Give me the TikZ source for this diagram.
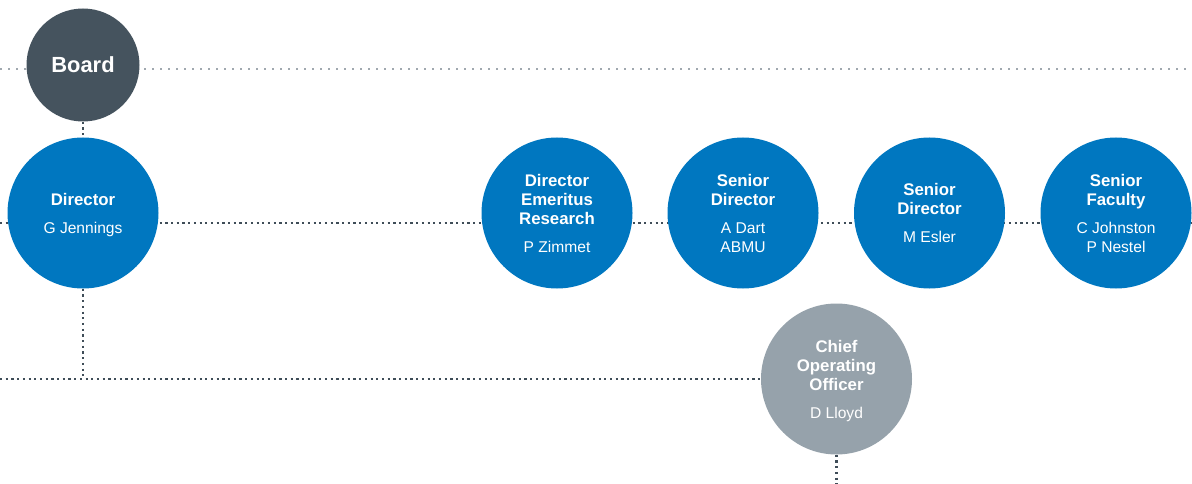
\documentclass[tikz,border=0pt]{standalone}
\usepackage{fontspec}
\setmainfont{Liberation Sans}
\usetikzlibrary{backgrounds}
\definecolor{orgblue}{RGB}{0,119,192}
\definecolor{orgslate}{RGB}{69,83,94}
\definecolor{orggrey}{RGB}{150,162,171}
\definecolor{dotdark}{RGB}{63,77,88}
\definecolor{dotlight}{RGB}{160,168,175}
\newcommand{\hdfont}{\fontsize{16.8}{19}\selectfont\bfseries}
\newcommand{\nmfont}{\fontsize{15.6}{19}\selectfont\mdseries}

\begin{document}
\begin{tikzpicture}[x=1pt,y=-1pt,
	unit/.style={circle,fill=orgblue,text=white,inner sep=0pt,minimum size=151pt,text depth=0pt,align=center,font=\hdfont},
	board/.style={circle,fill=orgslate,text=white,inner sep=0pt,minimum size=113pt,font=\fontsize{21.9}{24}\selectfont\bfseries},
	office/.style={unit,fill=orggrey},
	dotline/.style={dotdark,line width=2.2pt,dash pattern=on 2.2pt off 3.5pt},
	faintline/.style={dotlight,line width=2pt,dash pattern=on 2pt off 6pt}]
				\useasboundingbox (0,0) rectangle (1192,484);
				\node[board] (brd) at (83,65){Board};
				\node[unit] (dir) at (83,213){Director\\[9pt]\nmfont G Jennings};
				\node[unit] (emr) at (557,213){Director\\Emeritus\\Research\\[9pt]\nmfont P Zimmet};
				\node[unit] (sd1) at (743,213){Senior\\Director\\[9pt]\nmfont A Dart\\\nmfont ABMU};
				\node[unit] (sd2) at (929.5,213){Senior\\Director\\[9pt]\nmfont M Esler};
				\node[unit] (fac) at (1116,213){Senior\\Faculty\\[9pt]\nmfont C Johnston\\\nmfont P Nestel};
				\node[office] (coo) at (836.5,379){Chief\\Operating\\Officer\\[9pt]\nmfont D Lloyd};
				\coordinate (tl) at (0,69);
				\coordinate (tr) at (1192,69);
				\coordinate (ml) at (0,223);
				\coordinate (mr) at (1192,223);
				\coordinate (bl) at (0,379);
				\coordinate (cb) at (836.5,484);
				\begin{scope}[on background layer]
				\draw[faintline] (tl)--(tr);
				\draw[dotline] (ml)--(mr);
				\draw[dotline] (brd.south)--(dir.north);
				\draw[dotline] (dir.south)--(dir.south|-bl);
				\draw[dotline] (bl)--(coo.west);
				\draw[dotline] (coo.south)--(cb);
				\end{scope}
			\end{tikzpicture}
\end{document}
